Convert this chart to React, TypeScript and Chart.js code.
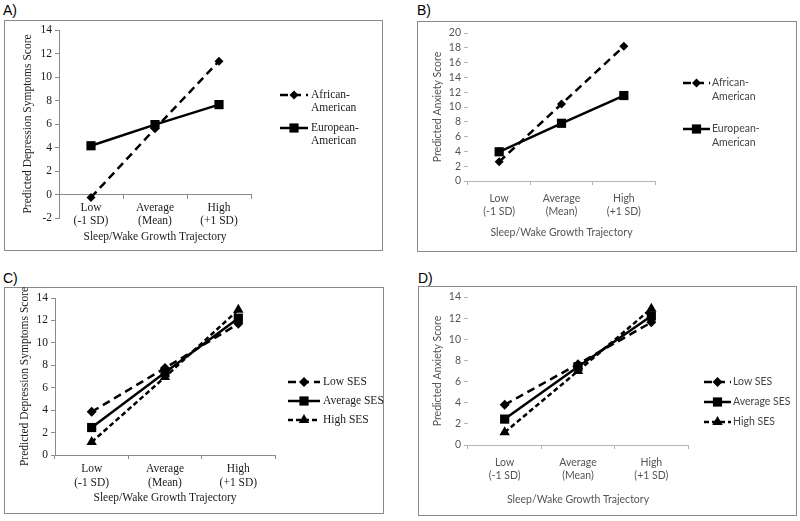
import React, { useEffect, useRef } from 'react';
import { Chart, registerables } from 'chart.js';

Chart.register(...registerables);

// ---------- data ----------
const categories = [['Low', '(-1 SD)'], ['Average', '(Mean)'], ['High', '(+1 SD)']];
const xTitle = 'Sleep/Wake Growth Trajectory';

const aAfrican = [-0.25, 5.6, 11.35];
const aEuropean = [4.15, 5.95, 7.65];
const bAfrican = [2.6, 10.4, 18.2];
const bEuropean = [3.95, 7.8, 11.55];
const cLow = [3.85, 7.75, 11.7];
const cAvg = [2.45, 7.35, 12.2];
const cHigh = [1.15, 6.95, 12.95];
const dLow = [3.8, 7.65, 11.6];
const dAvg = [2.45, 7.4, 12.2];
const dHigh = [1.2, 7.0, 12.9];

const raceNames = [['African-', 'American'], ['European-', 'American']];
const sesNames = [['Low SES'], ['Average SES'], ['High SES']];

const yTitleA = 'Predicted Depression Symptoms Score';
const yTitleB = 'Predicted Anxiety Score';

// ---------- styling ----------
type Series = { data: number[]; names: string[]; dash: number[]; style: string; radius: number };
type PanelCfg = {
  label: string;
  labelPos: [number, number];
  box: [number, number, number, number];
  area: [number, number, number, number];
  yMin: number; yMax: number; step: number;
  yTitle: string;
  serif: boolean;
  xAtZero: boolean;
  series: Series[];
  yTitleCenter: number;
  xTitleCenter: number;
  xFirstLine: number;
  legend: { x1: number; x2: number; textX: number; ys: number[]; lineGap: number };
};

const SERIF = '"Liberation Serif", "DejaVu Serif", serif';
const SANS = 'Lato, "Liberation Sans", sans-serif';

const panels: PanelCfg[] = [
  {
    label: 'A)', labelPos: [3, 2],
    box: [4, 20, 383, 251], area: [59, 30, 251, 218],
    yMin: -2, yMax: 14, step: 2, yTitle: yTitleA, serif: true, xAtZero: true,
    series: [
      { data: aAfrican, names: raceNames[0], dash: [8, 5], style: 'rectRot', radius: 4.5 },
      { data: aEuropean, names: raceNames[1], dash: [], style: 'rect', radius: 6.5 },
    ],
    yTitleCenter: 28, xTitleCenter: 237, xFirstLine: 13,
    legend: { x1: 280, x2: 308, textX: 311, ys: [95, 128], lineGap: 12.5 },
  },
  {
    label: 'B)', labelPos: [417, 2],
    box: [417, 21, 797, 252], area: [468, 33, 655, 181],
    yMin: 0, yMax: 20, step: 2, yTitle: yTitleB, serif: false, xAtZero: false,
    series: [
      { data: bAfrican, names: raceNames[0], dash: [8, 5], style: 'rectRot', radius: 4.5 },
      { data: bEuropean, names: raceNames[1], dash: [], style: 'rect', radius: 6.5 },
    ],
    yTitleCenter: 438, xTitleCenter: 233, xFirstLine: 18,
    legend: { x1: 683, x2: 710, textX: 712, ys: [83, 129], lineGap: 13.5 },
  },
  {
    label: 'C)', labelPos: [3, 270],
    box: [4, 287, 384, 514], area: [55, 298, 275, 455],
    yMin: 0, yMax: 14, step: 2, yTitle: yTitleA, serif: true, xAtZero: false,
    series: [
      { data: cLow, names: sesNames[0], dash: [8, 5], style: 'rectRot', radius: 5 },
      { data: cAvg, names: sesNames[1], dash: [], style: 'rect', radius: 6.5 },
      { data: cHigh, names: sesNames[2], dash: [5, 3], style: 'triangle', radius: 6 },
    ],
    yTitleCenter: 25, xTitleCenter: 498, xFirstLine: 14,
    legend: { x1: 288, x2: 320, textX: 323, ys: [382, 401, 420], lineGap: 13 },
  },
  {
    label: 'D)', labelPos: [418, 270],
    box: [418, 286, 797, 516], area: [468, 297, 688, 445],
    yMin: 0, yMax: 14, step: 2, yTitle: yTitleB, serif: false, xAtZero: false,
    series: [
      { data: dLow, names: sesNames[0], dash: [8, 5], style: 'rectRot', radius: 5 },
      { data: dAvg, names: sesNames[1], dash: [], style: 'rect', radius: 6.5 },
      { data: dHigh, names: sesNames[2], dash: [5, 3], style: 'triangle', radius: 6 },
    ],
    yTitleCenter: 438, xTitleCenter: 500, xFirstLine: 18,
    legend: { x1: 704, x2: 731, textX: 733, ys: [382, 402, 422], lineGap: 13 },
  },
];

function drawMarker(ctx: CanvasRenderingContext2D, style: string, x: number, y: number, r: number) {
  ctx.beginPath();
  if (style === 'rect') {
    const s = Math.SQRT1_2 * r;
    ctx.rect(x - s, y - s, 2 * s, 2 * s);
  } else if (style === 'rectRot') {
    ctx.moveTo(x - r, y);
    ctx.lineTo(x, y + r);
    ctx.lineTo(x + r, y);
    ctx.lineTo(x, y - r);
    ctx.closePath();
  } else {
    ctx.moveTo(x, y - r);
    ctx.lineTo(x + 0.866 * r, y + 0.5 * r);
    ctx.lineTo(x - 0.866 * r, y + 0.5 * r);
    ctx.closePath();
  }
  ctx.fillStyle = '#000';
  ctx.fill();
}

function legendPlugin(cfg: PanelCfg, font: string, color: string) {
  return {
    id: 'sideLegend',
    afterDraw(chart: any) {
      const ctx: CanvasRenderingContext2D = chart.ctx;
      const ox = cfg.box[0];
      const oy = cfg.box[1];
      const L = cfg.legend;
      chart.data.datasets.forEach((ds: any, i: number) => {
        const y = L.ys[i] - oy;
        ctx.save();
        ctx.strokeStyle = '#000';
        ctx.lineWidth = ds.borderWidth;
        ctx.setLineDash(ds.borderDash || []);
        ctx.beginPath();
        ctx.moveTo(L.x1 - ox, y);
        ctx.lineTo(L.x2 - ox, y);
        ctx.stroke();
        ctx.setLineDash([]);
        drawMarker(ctx, ds.pointStyle, (L.x1 + L.x2) / 2 - ox, y, ds.pointRadius);
        ctx.fillStyle = color;
        ctx.font = font;
        ctx.textBaseline = 'middle';
        ctx.textAlign = 'left';
        (cfg.series[i].names).forEach((t, k) => {
          ctx.fillText(t, L.textX - ox, y + k * L.lineGap);
        });
        ctx.restore();
      });
    },
  };
}

function Panel({ cfg }: { cfg: PanelCfg }) {
  const ref = useRef<HTMLCanvasElement>(null);
  const [bl, bt, br, bb] = cfg.box;
  const W = br - bl;
  const H = bb - bt;

  useEffect(() => {
    const [al, at, ar, ab] = cfg.area;
    const family = cfg.serif ? SERIF : SANS;
    const size = cfg.serif ? 11.5 : 10.5;
    const lh = size * 1.2;
    const textColor = cfg.serif ? '#1a1a1a' : '#555555';
    const axisColor = cfg.serif ? '#8a8a8a' : '#b5b5b5';
    const font = { family, size, lineHeight: 1.2 };
    const yW = al - bl;
    const xH = bb - ab;
    const tickLen = 4;
    const yTitlePad = cfg.yTitleCenter - bl - lh / 2;
    const zeroPx = cfg.xAtZero
      ? ab - ((0 - cfg.yMin) / (cfg.yMax - cfg.yMin)) * (ab - at) - bt
      : ab - bt;
    const xTitlePad = zeroPx + xH - (cfg.xTitleCenter - bt) - lh / 2;
    const xTickPad = cfg.xFirstLine - tickLen - lh / 2;

    const chart = new Chart(ref.current!, {
      type: 'line',
      data: {
        labels: categories,
        datasets: cfg.series.map((s) => ({
          label: s.names.join(' '),
          data: s.data,
          borderColor: '#000',
          backgroundColor: '#000',
          borderWidth: 2.5,
          borderDash: s.dash,
          pointStyle: s.style,
          pointRadius: s.radius,
          pointBorderWidth: 0,
          pointBackgroundColor: '#000',
          fill: false,
          tension: 0,
          clip: false,
        })),
      } as any,
      options: {
        responsive: false,
        animation: false,
        layout: {
          padding: { left: 0, top: at - bt, right: br - ar, bottom: cfg.xAtZero ? xH : 0 },
        },
        plugins: { legend: { display: false }, tooltip: { enabled: false } },
        scales: {
          x: {
            type: 'category',
            offset: true,
            position: cfg.xAtZero ? ({ y: 0 } as any) : 'bottom',
            grid: { offset: true, drawOnChartArea: false, drawTicks: true, tickLength: tickLen, color: axisColor },
            border: { display: true, color: axisColor, width: 1 },
            ticks: { font, color: textColor, padding: xTickPad, maxRotation: 0, autoSkip: false },
            title: { display: true, text: xTitle, font, color: textColor, padding: { top: 0, bottom: xTitlePad } },
            afterFit: (s: any) => { s.height = xH; },
          },
          y: {
            min: cfg.yMin,
            max: cfg.yMax,
            ticks: { stepSize: cfg.step, font, color: textColor, padding: 3, autoSkip: false },
            grid: { drawOnChartArea: false, drawTicks: true, tickLength: tickLen, color: axisColor },
            border: { display: cfg.serif, color: axisColor, width: 1 },
            title: { display: true, text: cfg.yTitle, font, color: textColor, padding: { top: yTitlePad, bottom: 0 } },
            afterFit: (s: any) => { s.width = yW; },
          },
        },
      } as any,
      plugins: [legendPlugin(cfg, `${size}px ${family}`, cfg.serif ? '#1a1a1a' : '#444444')],
    });
    return () => chart.destroy();
  }, [cfg]);

  return (
    <>
      <div
        style={{
          position: 'absolute', left: bl, top: bt, width: W, height: H,
          border: '1px solid #8a8a8a', boxSizing: 'border-box',
        }}
      />
      <canvas
        ref={ref}
        width={W}
        height={H}
        style={{ position: 'absolute', left: bl, top: bt, width: W, height: H }}
      />
      <div
        style={{
          position: 'absolute', left: cfg.labelPos[0], top: cfg.labelPos[1],
          font: '14px "Liberation Sans", Arial, sans-serif', lineHeight: '16px', color: '#000',
        }}
      >
        {cfg.label}
      </div>
    </>
  );
}

export default function App() {
  return (
    <div style={{ position: 'absolute', left: 0, top: 0, width: 800, height: 521, background: '#fff', overflow: 'hidden' }}>
      {panels.map((p) => (
        <Panel key={p.label} cfg={p} />
      ))}
    </div>
  );
}
